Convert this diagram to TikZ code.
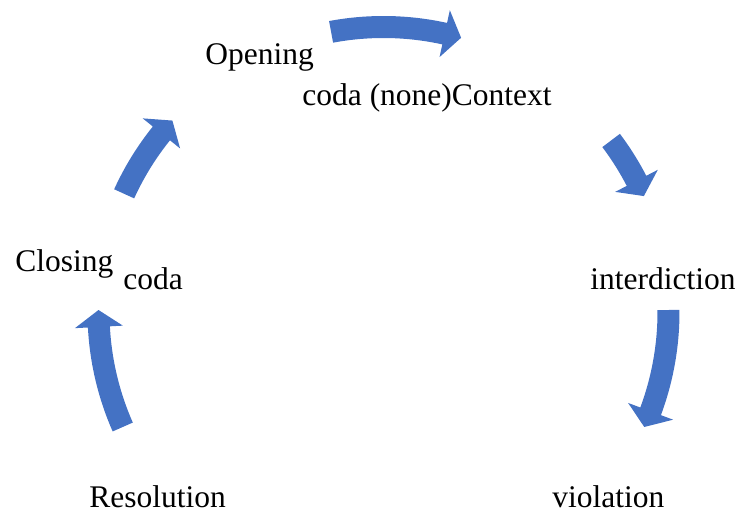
\documentclass[tikz,border=0pt]{standalone}
\usepackage{fontspec}
\setmainfont{Liberation Serif}
\usetikzlibrary{positioning}

\definecolor{cycleblue}{HTML}{4472C4}
\tikzset{
    steptext/.style={anchor=base west, inner sep=0pt, font=\fontsize{15.75}{18}\selectfont},
    cyclearrow/.style={fill=cycleblue, draw=none}
}

\begin{document}
\begin{tikzpicture}[x=0.5pt, y=0.5pt]
    \useasboundingbox (0,0) rectangle (739,512);

    % Stage labels
    \node[steptext] (opening) at (205,447) {Opening};
    \node[steptext] (context) at (302,406) {coda (none)Context};
    \node[steptext] (interdiction) at (590,222) {interdiction};
    \node[steptext] (violation) at (552,4) {violation};
    \node[steptext] (resolution) at (89,4) {Resolution};
    \node[steptext] (closing) at (15,240) {Closing};
    \node[steptext] (closingcoda) at (123,222) {coda};

    % Curved block arrows round the cycle (tail angle / tip angle)
    \begin{scope}[shift={(383.5,200)}]
        \foreach \tailang/\tipang in {100.6/74.2, 37/24, 0.4/-23.8, 203.8/179.6, 155.5/137.8}
            \fill[cyclearrow] (\tailang:296)
                arc[start angle=\tailang, end angle=\tipang+3.4, radius=296]
                -- (\tipang+3.4:309) -- (\tipang:285) -- (\tipang+3.4:261)
                -- (\tipang+3.4:274)
                arc[start angle=\tipang+3.4, end angle=\tailang, radius=274] -- cycle;
    \end{scope}
\end{tikzpicture}
\end{document}
